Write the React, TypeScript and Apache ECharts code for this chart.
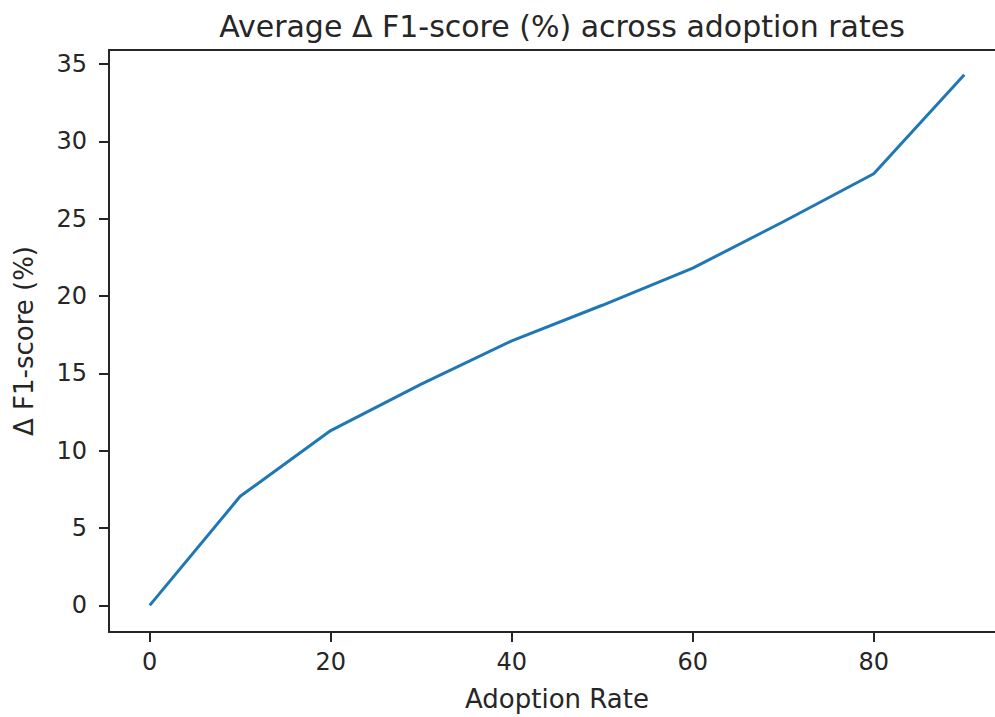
import React, { useEffect, useRef } from "react";
import * as echarts from "echarts";

const adoptionRates = [0, 10, 20, 30, 40, 50, 60, 70, 80, 90];
const deltaF1 = [0, 7.05, 11.3, 14.3, 17.1, 19.4, 21.8, 24.8, 27.9, 34.3];
const xTicks = [0, 20, 40, 60, 80];
const yTicks = [0, 5, 10, 15, 20, 25, 30, 35];

const FONT = "DejaVu Sans";
const INK = "#262626";

export default function App() {
  const ref = useRef<HTMLDivElement>(null);
  useEffect(() => {
    document.body.style.margin = "0";
    const chart = echarts.init(ref.current!, null, { renderer: "svg" });
    chart.setOption({
      animation: false,
      backgroundColor: "#ffffff",
      title: {
        text: "Average Δ F1-score (%) across adoption rates",
        left: 557,
        top: 6,
        textAlign: "center",
        textStyle: { fontFamily: FONT, fontSize: 30, fontWeight: "normal", color: INK },
      },
      grid: {
        left: 109,
        top: 50,
        width: 896,
        height: 582,
        show: false,
        containLabel: false,
      },
      xAxis: [
        {
          type: "value",
          min: -4.5,
          max: 94.5,
          name: "Adoption Rate",
          nameLocation: "middle",
          nameGap: 54,
          nameTextStyle: { fontFamily: FONT, fontSize: 26, color: INK },
          axisLine: { show: true, onZero: false, lineStyle: { color: INK, width: 2 } },
          axisTick: { show: true, length: 10, lineStyle: { color: INK, width: 2 }, customValues: xTicks },
          axisLabel: { fontFamily: FONT, fontSize: 24, color: INK, margin: 18, customValues: xTicks },
          splitLine: { show: false },
        },
        {
          type: "value",
          position: "top",
          min: -4.5,
          max: 94.5,
          axisLine: { show: true, onZero: false, lineStyle: { color: INK, width: 2 } },
          axisTick: { show: false },
          axisLabel: { show: false },
          splitLine: { show: false },
        },
      ],
      yAxis: {
        type: "value",
        min: -1.72,
        max: 35.9,
        name: "Δ F1-score (%)",
        nameLocation: "middle",
        nameRotate: 90,
        nameGap: 72,
        nameTextStyle: { fontFamily: FONT, fontSize: 26, color: INK },
        axisLine: { show: true, onZero: false, lineStyle: { color: INK, width: 2 } },
        axisTick: { show: true, length: 10, lineStyle: { color: INK, width: 2 }, customValues: yTicks },
        axisLabel: { fontFamily: FONT, fontSize: 24, color: INK, margin: 22, customValues: yTicks },
        splitLine: { show: false },
      },
      series: [
        {
          type: "line",
          xAxisIndex: 0,
          data: adoptionRates.map((x, i) => [x, deltaF1[i]]),
          showSymbol: false,
          symbol: "none",
          lineStyle: { color: "#1f77b4", width: 3 },
        },
      ],
    });
    return () => chart.dispose();
  }, []);
  return (
    <div style={{ width: 995, height: 717, position: "absolute", left: 0, top: 0, overflow: "hidden", background: "#fff" }}>
      <div ref={ref} style={{ width: 1012, height: 717 }} />
    </div>
  );
}
